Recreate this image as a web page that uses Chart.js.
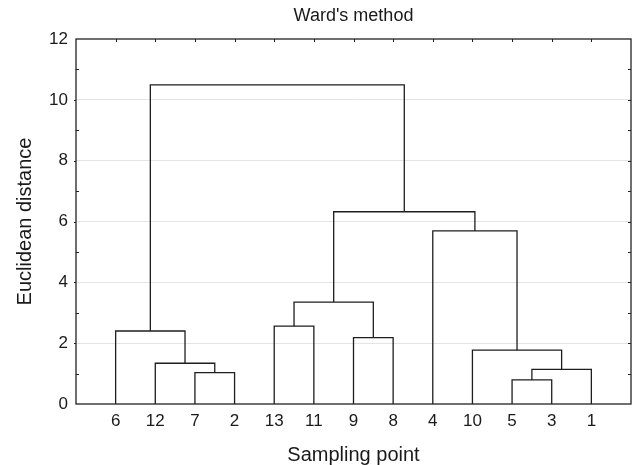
<!DOCTYPE html>
<html><head><meta charset="utf-8">
<script src="https://cdn.jsdelivr.net/npm/chart.js@4"></script>
<style>html,body{margin:0;padding:0;background:#fff}#wrap{width:634px;height:465px;position:relative}</style>
</head><body><div id="wrap"><canvas id="c"></canvas></div>
<script>
// Leaves in dendrogram order (left to right)
const leafLabels = ['6','12','7','2','13','11','9','8','4','10','5','3','1'];
// Linkage: merge k joins mergeLeft[k] and mergeRight[k] at mergeHeight[k]; 'mK' refers to merge K
const mergeLeft   = ['7', '12', '6',  '13', '9',  'm3', '5',  'm6', '10', '4',  'm5', 'm2'];
const mergeRight  = ['2', 'm0', 'm1', '11', '8',  'm4', '3',  '1',  'm7', 'm8', 'm9', 'm10'];
const mergeHeight = [1.03, 1.34, 2.40, 2.56, 2.18, 3.35, 0.79, 1.14, 1.77, 5.69, 6.32, 10.49];
const yTickValues = [0, 2, 4, 6, 8, 10, 12];

const nodes = {};
leafLabels.forEach((l, i) => { nodes[l] = { x: i + 1, y: 0 }; });
const datasets = mergeHeight.map((h, k) => {
  const L = nodes[mergeLeft[k]], R = nodes[mergeRight[k]];
  nodes['m' + k] = { x: (L.x + R.x) / 2, y: h };
  return {
    data: [{ x: L.x, y: L.y }, { x: L.x, y: h }, { x: R.x, y: h }, { x: R.x, y: R.y }],
    showLine: true, borderColor: '#1e1e1e', borderWidth: 1.3, pointRadius: 0, tension: 0, fill: false
  };
});

const FONT = '"Liberation Sans", Arial, Helvetica, sans-serif';
const TXT = '#1a1a1a';

const frame = {
  id: 'frame',
  afterDraw(chart) {
    const { ctx, chartArea: a, scales: { x, y } } = chart;
    ctx.save();
    ctx.strokeStyle = '#222';
    ctx.lineWidth = 1.3;
    ctx.strokeRect(a.left, a.top, a.right - a.left, a.bottom - a.top);
    ctx.lineWidth = 1;
    ctx.beginPath();
    for (let v = 1; v < 14; v++) {
      const px = Math.round(x.getPixelForValue(v)) + 0.5;
      ctx.moveTo(px, a.top); ctx.lineTo(px, a.top + 3);
    }
    for (let v = 1; v < 12; v++) {
      const py = Math.round(y.getPixelForValue(v)) + 0.5;
      ctx.moveTo(a.right, py); ctx.lineTo(a.right - 3, py);
      if (v % 2) { ctx.moveTo(a.left, py); ctx.lineTo(a.left + 3, py); }
      else { ctx.moveTo(a.left, py); ctx.lineTo(a.left - 2, py); }
    }
    ctx.stroke();
    ctx.restore();
  }
};

new Chart(document.getElementById('c'), {
  type: 'scatter',
  data: { datasets },
  options: {
    responsive: true, maintainAspectRatio: false, animation: false,
    layout: { padding: { left: 0, right: 3, top: 0, bottom: 0 } },
    plugins: {
      legend: { display: false }, tooltip: { enabled: false },
      title: { display: true, text: "Ward's method", color: TXT, fullSize: false,
               font: { family: FONT, size: 18, weight: 'normal', lineHeight: 1.2 }, padding: { top: 5, bottom: 12.4 } }
    },
    scales: {
      x: {
        type: 'linear', min: 0, max: 14,
        afterBuildTicks: s => { s.ticks = leafLabels.map((l, i) => ({ value: i + 1 })); },
        afterFit: s => { s.height = 61; },
        ticks: { autoSkip: false, maxRotation: 0, color: TXT, padding: 7,
                 font: { family: FONT, size: 17 }, callback: v => leafLabels[v - 1] ?? '' },
        grid: { display: false, drawTicks: false },
        border: { display: false },
        title: { display: true, text: 'Sampling point', color: TXT,
                 font: { family: FONT, size: 20, lineHeight: 1.0 }, padding: { top: 0, bottom: 0 } }
      },
      y: {
        min: 0, max: 12,
        afterBuildTicks: s => { s.ticks = yTickValues.map(v => ({ value: v })); },
        afterFit: s => { s.width = 76; },
        ticks: { color: TXT, padding: 8, font: { family: FONT, size: 17 } },
        grid: { color: c => (c.tick && c.tick.value > 0 && c.tick.value < 12) ? '#e4e4e4' : 'transparent', drawTicks: false, lineWidth: 1 },
        border: { display: false },
        title: { display: true, text: 'Euclidean distance', color: TXT,
                 font: { family: FONT, size: 20, lineHeight: 1.2 }, padding: { top: 13, bottom: 0 } }
      }
    }
  },
  plugins: [frame]
});
</script></body></html>
